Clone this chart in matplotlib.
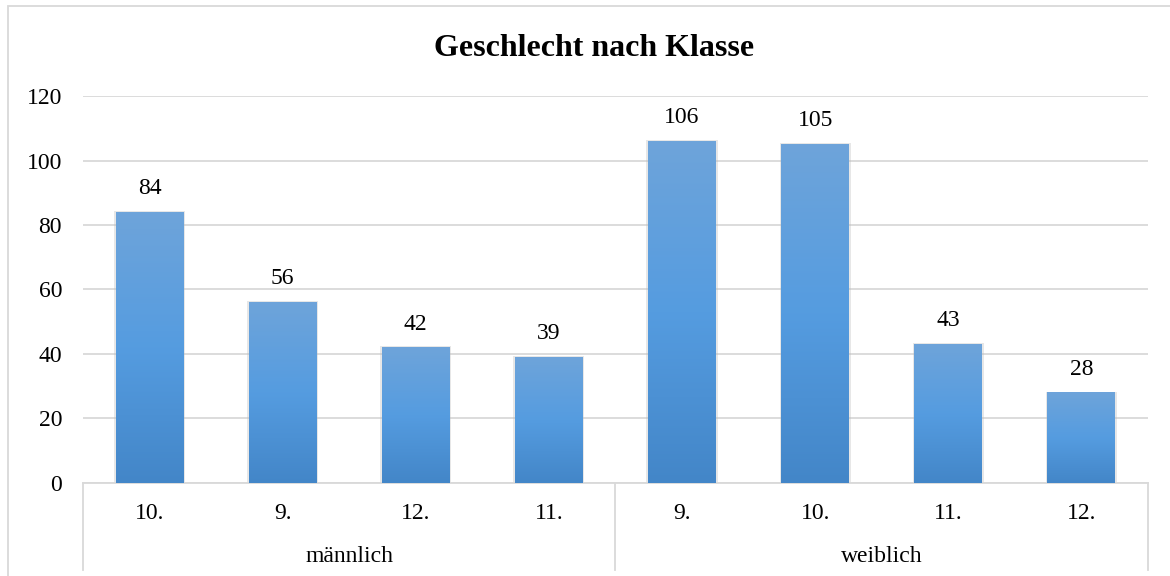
import numpy as np
import matplotlib.pyplot as plt
from matplotlib.colors import LinearSegmentedColormap
from matplotlib.patches import Rectangle

plt.rcParams['font.family'] = ['Liberation Serif', 'DejaVu Serif']

# data
groups = ['männlich', 'weiblich']
klassen = ['10.', '9.', '12.', '11.', '9.', '10.', '11.', '12.']
werte = [84, 56, 42, 39, 106, 105, 43, 28]

fig = plt.figure(figsize=(11.7, 5.76), dpi=100)
ax = fig.add_axes([0.0709, 0.1615, 0.9103, 0.6718])

x = np.arange(len(werte))
bars = ax.bar(x, werte, width=0.51, color='none', zorder=3)

cmap = LinearSegmentedColormap.from_list('blau', ['#4386c8', '#559ce0', '#6ea4da'])
grad = np.linspace(0, 1, 256).reshape(-1, 1)
for b in bars:
    x0, w, h = b.get_x(), b.get_width(), b.get_height()
    # soft shadow
    ax.add_patch(Rectangle((x0 - 0.012, 0), w + 0.024, h + 0.35, color='#bbbbbb', alpha=0.35, zorder=2, lw=0))
    ax.imshow(grad, cmap=cmap, aspect='auto', extent=(x0, x0 + w, 0, h),
              origin='lower', zorder=3)
    ax.text(x0 + w / 2, h + 4.0, str(int(h)), ha='center', va='bottom', fontsize=17)

ax.set_xlim(-0.5, len(werte) - 0.5)
ax.set_ylim(0, 120)
ax.set_yticks(range(0, 121, 20))
ax.tick_params(axis='y', length=0, labelsize=17, pad=15)
ax.set_xticks([])
ax.yaxis.grid(True, color='#d9d9d9', lw=1.3, zorder=0)
ax.set_axisbelow(True)
for s in ['top', 'right', 'left']:
    ax.spines[s].set_visible(False)
ax.spines['bottom'].set_color('#d9d9d9')
ax.spines['bottom'].set_linewidth(1.3)

# category labels and group labels
trans = ax.get_xaxis_transform()
for i, k in enumerate(klassen):
    ax.text(i, -0.08, k, transform=trans, ha='center', va='center', fontsize=17)
for g, name in enumerate(groups):
    ax.text(g * 4 + 1.5, -0.19, name, transform=trans, ha='center', va='center', fontsize=17)
for xs in [-0.5, 3.5, 7.5]:
    ax.plot([xs, xs], [0, -0.225], transform=trans, color='#d9d9d9', lw=1.3, clip_on=False)

fig.text(0.508, 0.916, 'Geschlecht nach Klasse', ha='center', va='center',
         fontsize=23, fontweight='bold')

# chart border
fig.add_artist(Rectangle((0.007, -0.01), 0.995, 1.0, transform=fig.transFigure,
                         fill=False, edgecolor='#d9d9d9', lw=1.3))

fig.savefig('out.png', dpi=100)
